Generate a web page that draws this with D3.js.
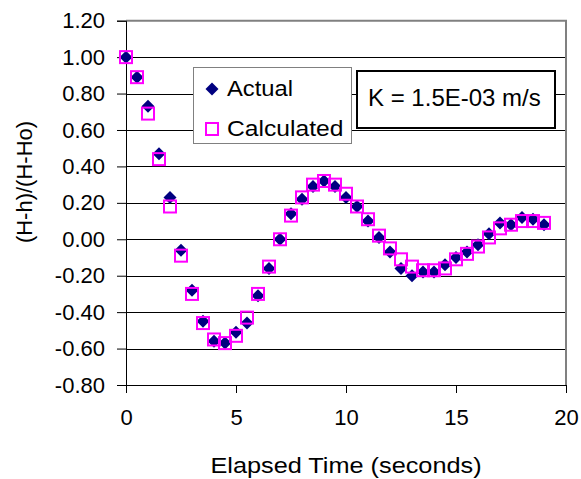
<!DOCTYPE html>
<html><head><meta charset="utf-8">
<script src="https://cdn.jsdelivr.net/npm/d3@7"></script>
<style>body{margin:0;background:#fff}svg{display:block;font-family:"Liberation Sans",Arial,sans-serif}</style>
</head><body><svg id="c" width="581" height="479"></svg>
<script>
const times = [0,0.5,1,1.5,2,2.5,3,3.5,4,4.5,5,5.5,6,6.5,7,7.5,8,8.5,9,9.5,10,10.5,11,11.5,12,12.5,13,13.5,14,14.5,15,15.5,16,16.5,17,17.5,18,18.5,19];
const actual = [1.00,0.89,0.73,0.47,0.23,-0.06,-0.28,-0.45,-0.56,-0.57,-0.51,-0.46,-0.31,-0.16,0.00,0.14,0.22,0.29,0.32,0.29,0.23,0.18,0.10,0.01,-0.07,-0.16,-0.20,-0.18,-0.18,-0.14,-0.10,-0.07,-0.03,0.03,0.09,0.08,0.12,0.11,0.08];
const calculated = [1.00,0.89,0.69,0.44,0.18,-0.09,-0.30,-0.46,-0.55,-0.57,-0.53,-0.43,-0.30,-0.15,0.00,0.13,0.23,0.30,0.32,0.30,0.25,0.18,0.11,0.02,-0.05,-0.11,-0.15,-0.17,-0.17,-0.16,-0.11,-0.08,-0.04,0.01,0.06,0.08,0.10,0.10,0.09];
const xTicks = [0,5,10,15,20];
const yTicks = [-0.8,-0.6,-0.4,-0.2,0,0.2,0.4,0.6,0.8,1.0,1.2];
const seriesNames = ["Actual","Calculated"];
const kLabel = "K = 1.5E-03 m/s";
const xTitle = "Elapsed Time (seconds)";
const yTitle = "(H-h)/(H-Ho)";

const svg = d3.select("#c");
const x = d3.scaleLinear().domain([0,20]).range([126,566]);
const y = d3.scaleLinear().domain([-0.8,1.2]).range([385,20.7]);
const fs = 22;
const fmtY = v => d3.format(".2f")(v).replace("\u2212","-");

// gridlines
svg.append("g").selectAll("line").data(yTicks.filter(v=>v<1.19)).join("line")
  .attr("x1",x(0)).attr("x2",x(20)).attr("y1",d=>Math.round(y(d))+0.5).attr("y2",d=>Math.round(y(d))+0.5)
  .attr("stroke","#000").attr("stroke-width",1);
// top & right border
svg.append("line").attr("x1",x(0)).attr("x2",x(20)+1).attr("y1",y(1.2)).attr("y2",y(1.2)).attr("stroke","#808080").attr("stroke-width",2);
svg.append("line").attr("x1",x(20)).attr("x2",x(20)).attr("y1",y(1.2)).attr("y2",y(-0.8)+1).attr("stroke","#808080").attr("stroke-width",2);

// axes
const yAxis = d3.axisLeft(y).tickValues(yTicks).tickSize(9).tickFormat(fmtY);
const gy = svg.append("g").attr("transform",`translate(${x(0)},0)`).call(yAxis);
gy.select(".domain").attr("stroke","#000");
gy.selectAll(".tick line").attr("stroke","#000");
gy.selectAll(".tick text").attr("x",-21).attr("font-size",fs).attr("fill","#000").attr("font-family","Liberation Sans, Arial, sans-serif");

const xAxis = d3.axisBottom(x).tickValues(xTicks).tickSize(8).tickFormat(d3.format("d"));
const gx = svg.append("g").attr("transform",`translate(0,${y(-0.8)})`).call(xAxis);
gx.select(".domain").attr("stroke","#000");
gx.selectAll(".tick line").attr("stroke","#000");
gx.selectAll(".tick text").attr("y",24).attr("font-size",fs).attr("fill","#000").attr("font-family","Liberation Sans, Arial, sans-serif");

// titles
svg.append("text").attr("transform","translate(346,473) scale(1.15,1)").attr("text-anchor","middle").attr("font-size",fs).text(xTitle);
svg.append("text").attr("transform","translate(32,182) rotate(-90)").attr("text-anchor","middle").attr("font-size",fs).text(yTitle);

// markers
const diamond = "M0,-6.5L6.5,0L0,6.5L-6.5,0Z";
const pts = times.map((t,i)=>({t,a:actual[i],c:calculated[i]}));
svg.append("g").selectAll("path").data(pts).join("path")
  .attr("d",diamond).attr("transform",d=>`translate(${x(d.t)},${y(d.a)})`).attr("fill","#000080");
svg.append("g").selectAll("rect").data(pts).join("rect")
  .attr("x",d=>x(d.t)-6).attr("y",d=>y(d.c)-6).attr("width",12).attr("height",12)
  .attr("fill","none").attr("stroke","#ff00ff").attr("stroke-width",2);

// legend
const lg = svg.append("g");
lg.append("rect").attr("x",193.5).attr("y",67.5).attr("width",158).attr("height",76).attr("fill","#fff").attr("stroke","#808080").attr("stroke-width",1);
lg.append("path").attr("d",diamond).attr("transform","translate(212,89)").attr("fill","#000080");
lg.append("rect").attr("x",206).attr("y",123).attr("width",12).attr("height",12).attr("fill","none").attr("stroke","#ff00ff").attr("stroke-width",2);
lg.append("text").attr("transform","translate(227,96) scale(1.08,1)").attr("font-size",fs).text(seriesNames[0]);
lg.append("text").attr("transform","translate(227,136) scale(1.12,1)").attr("font-size",fs).text(seriesNames[1]);

// K box
svg.append("rect").attr("x",357).attr("y",71).attr("width",198).attr("height",57).attr("fill","#fff").attr("stroke","#000").attr("stroke-width",2);
svg.append("text").attr("x",368).attr("y",106).attr("font-size",24).text(kLabel);
</script></body></html>
